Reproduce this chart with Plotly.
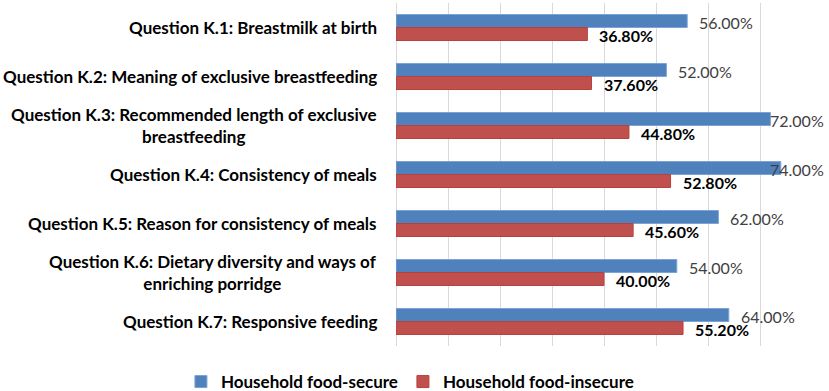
import plotly.graph_objects as go

categories = [
    "Question K.1: Breastmilk at birth",
    "Question K.2: Meaning of exclusive breastfeeding",
    "Question K.3: Recommended length of exclusive<br>breastfeeding",
    "Question K.4: Consistency of meals",
    "Question K.5: Reason for consistency of meals",
    "Question K.6: Dietary diversity and ways of<br>enriching porridge",
    "Question K.7: Responsive feeding",
]
food_secure = [0.56, 0.52, 0.72, 0.74, 0.62, 0.54, 0.64]
food_insecure = [0.368, 0.376, 0.448, 0.528, 0.456, 0.40, 0.552]
series_names = ["Household food-secure", "Household food-insecure"]
x_max = 0.8

FONT = "Lato"
ykeys = [f"K{i+1}" for i in range(len(categories))]

fig = go.Figure()
fig.add_trace(go.Bar(
    y=ykeys, x=food_secure, orientation="h", name=f"<b>{series_names[0]}</b>",
    marker=dict(color="#4F81BD", line=dict(color="#7CA3D6", width=1)),
))
fig.add_trace(go.Bar(
    y=ykeys, x=food_insecure, orientation="h", name=f"<b>{series_names[1]}</b>",
    marker=dict(color="#C0504D", line=dict(color="#B8403D", width=1)),
))

# category labels (centered multi-line, right-aligned block)
for k, c in zip(ykeys, categories):
    fig.add_annotation(
        x=0, y=k, xref="x", yref="y", text=f"<b>{c}</b>", showarrow=False,
        xanchor="right", xshift=-17, align="center",
        font=dict(family=FONT, size=17, color="#000000"),
    )

LABEL_W = 0.105  # approx label width in axis units, keeps labels inside the page

def add_value_label(k, v, txt, yshift, color):
    if v + LABEL_W > x_max:
        fig.add_annotation(x=1, y=k, xref="paper", yref="y", text=txt,
                           showarrow=False, xanchor="right", xshift=14,
                           yshift=yshift, font=dict(family=FONT, size=16, color=color))
    else:
        fig.add_annotation(x=v, y=k, xref="x", yref="y", text=txt,
                           showarrow=False, xanchor="left", xshift=10,
                           yshift=yshift, font=dict(family=FONT, size=16, color=color))

for k, v in zip(ykeys, food_secure):
    add_value_label(k, v, f"{v*100:.2f}%", 5, "#404040")
for k, v in zip(ykeys, food_insecure):
    add_value_label(k, v, f"<b>{v*100:.2f}%</b>", -8, "#000000")

fig.update_layout(
    width=829, height=391,
    margin=dict(l=396, r=17, t=3, b=45, autoexpand=False),
    paper_bgcolor="white", plot_bgcolor="white",
    barmode="group", bargap=0.47, bargroupgap=0,
    xaxis=dict(range=[0, x_max], dtick=0.1, showgrid=True, gridcolor="#D9D9D9",
               gridwidth=1, showticklabels=False, zeroline=True,
               zerolinecolor="#D9D9D9", zerolinewidth=1, fixedrange=True),
    yaxis=dict(autorange="reversed", showticklabels=False, showgrid=False,
               fixedrange=True),
    legend=dict(orientation="h", x=-0.517, xanchor="left", y=-0.105,
                yanchor="middle",
                font=dict(family=FONT, size=17, color="#000000"),
                itemclick=False, traceorder="normal"),
    font=dict(family=FONT),
    showlegend=True,
)

fig.write_html("out.html", config={"displayModeBar": False},
               post_script="document.body.style.margin='0';")
